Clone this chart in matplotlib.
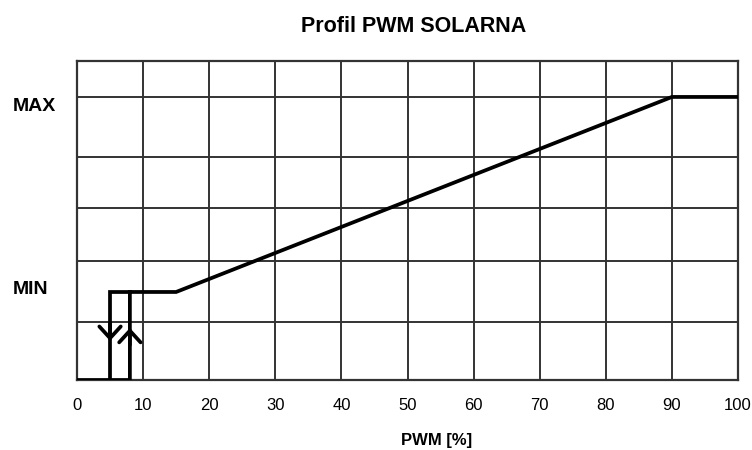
import matplotlib
matplotlib.use("Agg")
import matplotlib.pyplot as plt

# --- data -----------------------------------------------------------------
x_ticks = [0, 10, 20, 30, 40, 50, 60, 70, 80, 90, 100]
y_grid = [0.205, 0.42, 0.608, 0.788, 1.0]
y_top = 1.127

level_min = 0.311
level_max = 1.0
level_names = ["MIN", "MAX"]
label_offsets = [0.007, -0.032]   # vertical nudge of each level name

# rising branch: off until 8 %, jump to MIN, flat to 15 %, ramp to MAX at 90 %
rise_pwm = [0, 8, 8, 15, 90, 100]
rise_lvl = [0, 0, level_min, level_min, level_max, level_max]

# falling branch of the hysteresis: back to 5 %, then off
fall_pwm = [8, 5, 5]
fall_lvl = [level_min, level_min, 0]

# direction arrows (tip positions)
arrow_down = (5, 0.138)
arrow_up = (8, 0.184)

plt.rcParams["font.family"] = ["Liberation Sans", "DejaVu Sans"]

fig = plt.figure(figsize=(7.52, 4.5), dpi=100)
ax = fig.add_axes([77 / 752, 70 / 450, 661 / 752, 319 / 450])

grid_color = "#333333"
ax.set_xlim(0, 100)
ax.set_ylim(0, y_top)

for xv in x_ticks[1:-1]:
    ax.axvline(xv, color=grid_color, lw=1.4, zorder=1)
for yv in y_grid:
    ax.axhline(yv, color=grid_color, lw=1.4, zorder=1)
for s in ax.spines.values():
    s.set_color(grid_color)
    s.set_linewidth(1.6)

ax.plot(rise_pwm, rise_lvl, color="black", lw=2.7, solid_joinstyle="miter", zorder=3)
ax.plot(fall_pwm, fall_lvl, color="black", lw=2.7, solid_joinstyle="miter", zorder=3)

arrow_kw = dict(arrowstyle="->,head_length=0.6,head_width=0.55", lw=2.7, color="black",
                shrinkA=0, shrinkB=0, mutation_scale=14)
ax.annotate("", xy=arrow_down, xytext=(arrow_down[0], arrow_down[1] + 0.06),
            arrowprops=arrow_kw, zorder=4)
ax.annotate("", xy=arrow_up, xytext=(arrow_up[0], arrow_up[1] - 0.06),
            arrowprops=arrow_kw, zorder=4)

ax.set_xticks(x_ticks)
ax.set_xticklabels([str(v) for v in x_ticks], fontsize=12)
ax.tick_params(axis="x", length=0, pad=13)
ax.set_yticks([])

# level names on the left margin
for lvl, name, off in zip([level_min, level_max], level_names, label_offsets):
    ax.text(-0.097, lvl + off, name, transform=ax.get_yaxis_transform(), ha="left",
            va="center", fontsize=14, fontweight="bold")

fig.text(414 / 752, 1 - 27 / 450, "Profil PWM SOLARNA", ha="center", va="center",
         fontsize=15.5, fontweight="bold")
fig.text(437 / 752, 1 - 440 / 450, "PWM [%]", ha="center", va="center",
         fontsize=12, fontweight="bold")

fig.savefig("out.png", dpi=100)
